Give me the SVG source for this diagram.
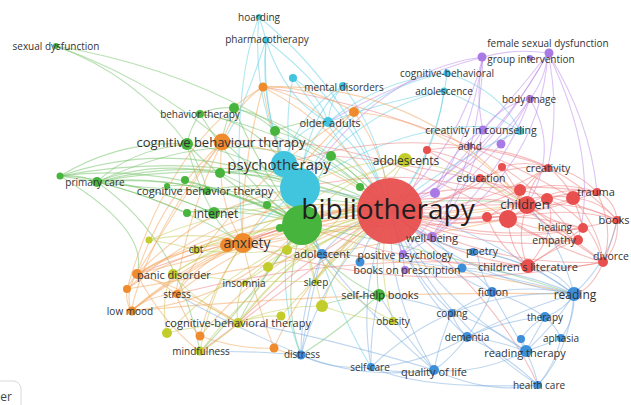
<svg xmlns="http://www.w3.org/2000/svg" width="631" height="405" viewBox="0 0 631 405">
<style>
text{font-family:"Open Sans","Noto Sans",sans-serif;fill:#333;text-anchor:middle;dominant-baseline:central;font-size:10px}
#connectors path{fill:none;stroke-width:1.1;stroke-opacity:.5}
.er path{stroke:#ee7b7b}.eg path{stroke:#72c266}.ec path{stroke:#5fd0e6}.eb path{stroke:#7eaee0}.eo path{stroke:#f4a35a}.ey path{stroke:#c4cc55}.ep path{stroke:#bb8ae9}
.r{fill:#e8504f}.g{fill:#47b43d}.c{fill:#41c4de}.b{fill:#3e8fda}.y{fill:#c2cc2b}.p{fill:#a97ae6}.o{fill:#f08b2d}
.s11{font-size:11px}.s12{font-size:12px}.s13{font-size:13px}
</style>
<rect width="631" height="405" fill="#fff"/>
<g id="connectors">
<g class="eg">
<path d="M56,46Q248,78 390,211"/><path d="M56,46Q206,99 302,225"/><path d="M56,46Q136,75 187,144"/>
<path d="M97,182Q248,152 390,211"/><path d="M60,176Q230,144 390,211"/><path d="M97,182Q206,173 302,225"/>
<path d="M97,182Q199,154 300,188"/><path d="M97,182Q130,150 187,144"/><path d="M97,182Q150,185 213,213"/>
<path d="M97,182Q140,192 187,213"/><path d="M97,182Q78,174 60,176"/><path d="M97,182Q150,175 207,190"/>
<path d="M97,182Q150,160 220,173"/><path d="M97,182Q170,200 243,243"/><path d="M60,176Q180,160 302,225"/>
<path d="M60,176Q180,135 300,188"/><path d="M60,176Q140,180 213,213"/><path d="M60,176Q120,140 187,144"/>
<path d="M60,176Q140,190 207,190"/><path d="M200,114Q309,134 390,211"/><path d="M200,114Q217,106 234,108"/>
<path d="M200,114Q190,128 187,144"/><path d="M200,114Q240,180 302,225"/><path d="M200,114Q250,120 283,162"/>
<path d="M234,108Q260,115 275,131"/><path d="M234,108Q260,170 302,225"/><path d="M234,108Q225,120 222,142"/>
<path d="M234,108Q320,130 390,211"/><path d="M275,131Q280,180 302,225"/><path d="M275,131Q340,150 390,211"/>
<path d="M275,131Q300,120 328,122"/><path d="M187,144Q230,190 302,225"/><path d="M187,144Q195,180 213,213"/>
<path d="M187,144Q200,165 207,190"/><path d="M187,144Q240,150 300,188"/><path d="M220,173Q260,190 302,225"/>
<path d="M220,173Q300,160 390,211"/><path d="M185,180Q240,195 302,225"/><path d="M207,190Q250,195 302,225"/>
<path d="M207,190Q300,175 390,211"/><path d="M267,205Q285,210 302,225"/><path d="M213,213Q301,186 390,211"/>
<path d="M213,213Q260,210 302,225"/><path d="M213,213Q225,235 243,243"/><path d="M187,213Q200,208 213,213"/>
<path d="M187,213Q250,200 302,225"/><path d="M302,225Q330,275 379,295"/><path d="M379,295Q372,251 390,211"/>
<path d="M379,295Q340,330 301,355"/><path d="M302,225Q420,190 527,205"/><path d="M302,225Q440,250 574,294"/>
<path d="M302,225Q280,300 301,355"/><path d="M302,225Q250,300 200,352"/><path d="M302,225Q260,280 238,323"/>
<path d="M331,156Q310,190 302,225"/><path d="M331,156Q370,170 390,211"/><path d="M360,187Q375,195 390,211"/>
<path d="M379,295Q330,300 322,306"/><path d="M167,186Q240,180 302,225"/><path d="M97,182Q180,240 200,352"/>
<path d="M60,176Q150,230 137,274"/><path d="M97,182Q250,110 360,187"/>
</g>
<g class="ec">
<path d="M259,17Q263,28 266,40"/><path d="M259,17Q354,94 390,211"/><path d="M259,17Q250,110 300,188"/>
<path d="M266,40Q354,107 390,211"/><path d="M266,40Q258,120 300,188"/><path d="M266,40Q262,110 284,164"/>
<path d="M266,40Q285,100 328,122"/><path d="M293,78Q280,140 300,188"/><path d="M293,78Q320,95 328,122"/>
<path d="M293,78Q340,140 390,211"/><path d="M343,86Q385,141 390,211"/><path d="M343,86Q305,120 300,188"/>
<path d="M343,86Q300,110 284,164"/><path d="M343,86Q330,100 328,122"/><path d="M328,122Q372,157 390,211"/>
<path d="M328,122Q300,150 300,188"/><path d="M328,122Q290,130 284,164"/><path d="M447,73Q439,151 390,211"/>
<path d="M447,73Q350,90 300,188"/><path d="M447,73Q380,80 328,122"/><path d="M444,91Q435,159 390,211"/>
<path d="M444,91Q360,110 300,188"/><path d="M444,91Q390,100 328,122"/><path d="M520,131Q420,110 300,188"/>
<path d="M520,131Q470,100 444,91"/><path d="M520,131Q500,90 447,73"/><path d="M520,131Q450,160 390,211"/>
<path d="M300,188Q270,280 301,355"/><path d="M300,188Q250,230 243,243"/><path d="M300,188Q330,300 371,367"/>
<path d="M266,40Q240,120 222,142"/><path d="M259,17Q230,90 243,243"/>
</g>
<g class="ep">
<path d="M483,57Q460,148 390,211"/><path d="M548,53Q493,156 390,211"/><path d="M530,99Q477,176 390,211"/>
<path d="M483,130Q449,184 390,211"/><path d="M548,53Q515,48 483,57"/><path d="M548,53Q545,80 530,99"/>
<path d="M548,53Q520,90 483,130"/><path d="M548,53Q500,140 435,193"/><path d="M483,57Q380,70 300,188"/>
<path d="M483,57Q400,80 328,122"/><path d="M483,57Q475,95 483,130"/><path d="M483,57Q470,140 435,193"/>
<path d="M483,57Q480,160 432,237"/><path d="M548,53Q540,170 432,237"/><path d="M548,53Q560,110 548,167"/>
<path d="M548,53Q590,120 597,192"/><path d="M530,99Q500,105 483,130"/><path d="M530,99Q515,125 501,144"/>
<path d="M530,99Q500,180 432,237"/><path d="M530,99Q560,150 527,205"/><path d="M483,130Q450,150 435,193"/>
<path d="M483,130Q470,190 432,237"/><path d="M501,144Q450,200 402,254"/><path d="M432,237Q420,245 402,254"/>
<path d="M435,193Q415,200 390,211"/><path d="M432,237Q410,230 390,211"/><path d="M402,254Q396,236 390,211"/>
<path d="M405,270Q400,240 390,211"/><path d="M548,53Q600,160 578,240"/>
</g>
<g class="er">
<path d="M548,167Q476,213 390,211"/><path d="M597,192Q496,233 390,211"/><path d="M617,220Q502,250 390,211"/>
<path d="M603,262Q489,268 390,211"/><path d="M528,266Q451,259 390,211"/><path d="M527,205Q459,229 390,211"/>
<path d="M520,190Q458,220 390,211"/><path d="M573,198Q484,232 390,211"/><path d="M583,228Q484,249 390,211"/>
<path d="M578,240Q480,254 390,211"/><path d="M480,178Q440,208 390,211"/><path d="M502,167Q453,206 390,211"/>
<path d="M427,150Q420,190 390,211"/><path d="M508,219Q450,230 390,211"/><path d="M487,217Q440,225 390,211"/>
<path d="M527,205Q560,185 597,192"/><path d="M527,205Q575,200 617,220"/><path d="M527,205Q530,180 548,167"/>
<path d="M527,205Q555,225 583,228"/><path d="M527,205Q550,235 578,240"/><path d="M527,205Q575,240 603,262"/>
<path d="M527,205Q515,240 528,266"/><path d="M527,205Q500,185 480,178"/><path d="M527,205Q510,180 502,167"/>
<path d="M508,219Q550,190 597,192"/><path d="M508,219Q570,205 617,220"/><path d="M508,219Q560,250 603,262"/>
<path d="M508,219Q510,250 528,266"/><path d="M508,219Q520,185 548,167"/><path d="M508,219Q545,235 583,228"/>
<path d="M508,219Q540,245 578,240"/><path d="M573,198Q600,200 617,220"/><path d="M573,198Q600,230 603,262"/>
<path d="M573,198Q580,215 583,228"/><path d="M573,198Q565,180 548,167"/><path d="M597,192Q615,200 617,220"/>
<path d="M597,192Q615,230 603,262"/><path d="M597,192Q575,170 548,167"/><path d="M548,167Q525,160 502,167"/>
<path d="M548,167Q515,165 480,178"/><path d="M548,167Q590,190 617,220"/><path d="M617,220Q620,245 603,262"/>
<path d="M528,266Q570,270 603,262"/><path d="M528,266Q550,250 578,240"/><path d="M528,266Q560,245 583,228"/>
<path d="M427,150Q480,160 527,205"/><path d="M427,150Q450,165 480,178"/><path d="M427,150Q490,140 548,167"/>
<path d="M527,205Q420,160 300,188"/><path d="M527,205Q400,180 243,243"/><path d="M508,219Q400,230 302,225"/>
<path d="M527,205Q330,200 137,274"/><path d="M528,266Q350,250 176,294"/><path d="M597,192Q420,170 243,243"/>
<path d="M508,219Q360,130 222,142"/><path d="M548,167Q420,120 284,164"/><path d="M528,266Q420,270 302,225"/>
<path d="M520,190Q400,160 331,156"/><path d="M390,211Q300,260 238,323"/><path d="M390,211Q270,300 200,352"/>
<path d="M390,211Q500,300 538,385"/><path d="M617,220Q600,290 574,294"/>
<path d="M487,217Q530,190 573,198"/><path d="M487,217Q540,215 583,228"/><path d="M520,190Q560,180 597,192"/>
<path d="M520,190Q570,200 617,220"/><path d="M502,167Q540,190 578,240"/><path d="M480,178Q540,220 603,262"/>
<path d="M547,199Q590,215 603,262"/><path d="M547,199Q560,230 528,266"/><path d="M487,217Q500,250 528,266"/>
<path d="M573,198Q420,110 263,87"/><path d="M603,262Q400,300 243,243"/>
</g>
<g class="eo">
<path d="M263,87Q345,130 390,211"/><path d="M354,112Q387,156 390,211"/><path d="M222,142Q316,151 390,211"/>
<path d="M243,243Q312,205 390,211"/><path d="M137,274Q254,205 390,211"/><path d="M131,311Q246,222 390,211"/>
<path d="M176,294Q271,220 390,211"/><path d="M200,336Q276,245 390,211"/><path d="M274,348Q312,262 390,211"/>
<path d="M263,87Q235,105 222,142"/><path d="M263,87Q240,170 243,243"/><path d="M263,87Q310,85 354,112"/>
<path d="M263,87Q270,130 284,164"/><path d="M263,87Q300,95 328,122"/><path d="M263,87Q420,80 527,205"/>
<path d="M354,112Q300,160 243,243"/><path d="M354,112Q240,180 176,294"/><path d="M354,112Q450,120 527,205"/>
<path d="M222,142Q215,200 243,243"/><path d="M222,142Q160,200 137,274"/><path d="M222,142Q150,230 131,311"/>
<path d="M222,142Q185,220 176,294"/><path d="M243,243Q180,245 137,274"/><path d="M243,243Q180,270 131,311"/>
<path d="M243,243Q200,260 176,294"/><path d="M243,243Q210,290 200,336"/><path d="M243,243Q255,300 274,348"/>
<path d="M243,243Q390,225 527,205"/><path d="M243,243Q420,260 574,294"/><path d="M137,274Q125,290 131,311"/>
<path d="M137,274Q130,282 127,289"/><path d="M137,274Q160,280 176,294"/><path d="M137,274Q190,290 238,323"/>
<path d="M137,274Q160,320 200,352"/><path d="M137,274Q220,230 302,225"/><path d="M137,274Q210,200 300,188"/>
<path d="M127,289Q170,140 263,87"/><path d="M127,289Q180,250 243,243"/><path d="M127,289Q125,300 131,311"/>
<path d="M131,311Q150,295 176,294"/><path d="M131,311Q190,260 243,243"/><path d="M176,294Q210,305 238,323"/>
<path d="M176,294Q185,320 200,336"/><path d="M200,336Q240,350 274,348"/><path d="M274,348Q290,355 301,355"/>
<path d="M137,274Q340,220 527,205"/><path d="M131,311Q350,290 574,294"/><path d="M127,289Q250,180 390,211"/>
<path d="M227,245Q300,230 390,211"/><path d="M137,274Q200,170 222,142"/><path d="M127,289Q300,260 508,219"/>
<path d="M131,311Q240,300 302,225"/>
</g>
<g class="ey">
<path d="M405,160Q340,180 302,225"/><path d="M405,160Q350,160 300,188"/><path d="M405,160Q310,190 243,243"/>
<path d="M405,160Q470,170 527,205"/><path d="M405,160Q360,230 315,282"/><path d="M405,160Q300,250 238,323"/>
<path d="M195,250Q172,243 149,240"/><path d="M195,250Q220,240 243,243"/><path d="M195,250Q250,230 302,225"/>
<path d="M195,250Q287,202 390,211"/><path d="M195,250Q240,255 287,250"/><path d="M287,250Q295,235 302,225"/>
<path d="M287,250Q340,225 390,211"/><path d="M268,267Q290,245 302,225"/><path d="M268,267Q255,275 243,283"/>
<path d="M268,267Q330,240 390,211"/><path d="M243,283Q306,225 390,211"/><path d="M243,283Q205,275 172,274"/>
<path d="M243,283Q235,305 238,323"/><path d="M243,283Q280,280 315,282"/><path d="M172,274Q272,210 390,211"/>
<path d="M172,274Q200,305 238,323"/><path d="M172,274Q160,300 167,333"/><path d="M172,274Q210,250 243,243"/>
<path d="M315,282Q342,235 390,211"/><path d="M315,282Q305,250 302,225"/><path d="M322,306Q340,250 390,211"/>
<path d="M322,306Q310,260 302,225"/><path d="M322,306Q280,305 238,323"/><path d="M322,306Q360,320 393,321"/>
<path d="M238,323Q297,244 390,211"/><path d="M238,323Q220,340 200,352"/><path d="M238,323Q260,315 281,316"/>
<path d="M238,323Q200,325 167,333"/><path d="M200,352Q274,253 390,211"/><path d="M200,352Q210,290 243,243"/>
<path d="M167,333Q260,238 390,211"/><path d="M393,321Q375,266 390,211"/><path d="M393,321Q330,290 302,225"/>
<path d="M149,240Q200,230 243,243"/><path d="M149,240Q265,190 390,211"/><path d="M281,316Q330,260 390,211"/>
</g>
<g class="eb">
<path d="M322,254Q350,220 390,211"/><path d="M322,254Q450,260 574,294"/><path d="M322,254Q310,230 300,188"/>
<path d="M322,254Q300,310 301,355"/><path d="M360,262Q370,230 390,211"/><path d="M462,268Q430,230 390,211"/>
<path d="M462,268Q520,270 574,294"/><path d="M462,268Q480,275 492,292"/><path d="M477,252Q427,245 390,211"/>
<path d="M477,252Q530,260 574,294"/><path d="M477,252Q500,255 528,266"/><path d="M477,252Q480,275 492,292"/>
<path d="M492,292Q429,267 390,211"/><path d="M492,292Q535,285 574,294"/><path d="M492,292Q475,300 452,313"/>
<path d="M492,292Q520,300 545,317"/><path d="M492,292Q480,320 467,337"/><path d="M492,292Q510,325 526,351"/>
<path d="M574,294Q470,280 390,211"/><path d="M574,294Q565,310 545,317"/><path d="M574,294Q575,320 561,338"/>
<path d="M574,294Q555,325 526,351"/><path d="M574,294Q570,350 538,385"/><path d="M574,294Q560,270 528,266"/>
<path d="M574,294Q560,240 527,205"/><path d="M574,294Q610,260 617,220"/><path d="M574,294Q520,310 467,337"/>
<path d="M574,294Q510,290 452,313"/><path d="M574,294Q440,200 300,188"/><path d="M545,317Q535,335 526,351"/>
<path d="M545,317Q555,325 561,338"/><path d="M545,317Q505,320 467,337"/><path d="M545,317Q530,325 521,339"/>
<path d="M561,338Q545,345 526,351"/><path d="M561,338Q555,365 538,385"/><path d="M526,351Q437,301 390,211"/>
<path d="M526,351Q535,370 538,385"/><path d="M526,351Q495,340 467,337"/><path d="M526,351Q480,375 434,370"/>
<path d="M526,351Q490,325 452,313"/><path d="M521,339Q525,345 526,351"/><path d="M538,385Q438,320 390,211"/>
<path d="M538,385Q500,350 467,337"/><path d="M467,337Q410,285 390,211"/><path d="M467,337Q450,360 434,370"/>
<path d="M467,337Q455,325 452,313"/><path d="M467,337Q420,365 371,367"/><path d="M434,370Q388,297 390,211"/>
<path d="M434,370Q400,375 371,367"/><path d="M434,370Q490,395 538,385"/><path d="M434,370Q440,340 452,313"/>
<path d="M434,370Q360,380 301,355"/><path d="M434,370Q400,330 379,295"/><path d="M434,370Q350,300 302,225"/>
<path d="M371,367Q357,286 390,211"/><path d="M371,367Q330,370 301,355"/><path d="M371,367Q370,330 379,295"/>
<path d="M371,367Q410,330 452,313"/><path d="M452,313Q406,271 390,211"/><path d="M452,313Q420,300 379,295"/>
<path d="M301,355Q324,270 390,211"/><path d="M301,355Q310,300 322,254"/><path d="M301,355Q240,350 200,352"/>
<path d="M301,355Q220,320 176,294"/><path d="M434,370Q300,330 238,323"/><path d="M538,385Q420,390 371,367"/>
</g>
</g>
<g id="n-c1"><circle class="c" cx="293" cy="78" r="4"/></g>
<g id="n-cy"><circle class="c" cx="520" cy="131" r="4"/></g>
<g id="n-psy-big"><circle class="c" cx="300" cy="188" r="20"/></g>
<g id="n-g2"><circle class="g" cx="234" cy="108" r="5"/></g>
<g id="n-g3"><circle class="g" cx="275" cy="131" r="5"/></g>
<g id="n-g4"><circle class="g" cx="331" cy="156" r="5"/></g>
<g id="n-g5"><circle class="g" cx="60" cy="176" r="3.5"/></g>
<g id="n-g6"><circle class="g" cx="220" cy="173" r="5"/></g>
<g id="n-g7"><circle class="g" cx="185" cy="180" r="4"/></g>
<g id="n-g8"><circle class="g" cx="167" cy="186" r="3"/></g>
<g id="n-g9"><circle class="g" cx="267" cy="205" r="4"/></g>
<g id="n-g10"><circle class="g" cx="187" cy="213" r="4"/></g>
<g id="n-g11"><circle class="g" cx="280" cy="228" r="4"/></g>
<g id="n-g12"><circle class="g" cx="360" cy="187" r="4"/></g>
<g id="n-cbt-g"><circle class="g" cx="187" cy="144" r="6"/></g>
<g id="n-green-big"><circle class="g" cx="302" cy="225" r="20"/></g>
<g id="n-o1"><circle class="o" cx="263" cy="87" r="4.5"/></g>
<g id="n-o2"><circle class="o" cx="354" cy="112" r="5"/></g>
<g id="n-o3"><circle class="o" cx="127" cy="289" r="4"/></g>
<g id="n-o4"><circle class="o" cx="200" cy="336" r="4.5"/></g>
<g id="n-o5"><circle class="o" cx="274" cy="348" r="4.5"/></g>
<g id="n-o6"><circle class="o" cx="137" cy="274" r="5"/></g>
<g id="n-ax2"><circle class="o" cx="227" cy="245" r="7"/></g>
<g id="n-y2"><circle class="y" cx="149" cy="240" r="3.5"/></g>
<g id="n-y3"><circle class="y" cx="287" cy="250" r="5"/></g>
<g id="n-y4"><circle class="y" cx="268" cy="267" r="5"/></g>
<g id="n-y5"><circle class="y" cx="322" cy="306" r="6"/></g>
<g id="n-y6"><circle class="y" cx="281" cy="316" r="4.5"/></g>
<g id="n-y7"><circle class="y" cx="167" cy="333" r="5"/></g>
<g id="n-b1"><circle class="b" cx="360" cy="262" r="4.5"/></g>
<g id="n-b2"><circle class="b" cx="462" cy="268" r="4.5"/></g>
<g id="n-b3"><circle class="b" cx="521" cy="339" r="4"/></g>
<g id="n-p1"><circle class="p" cx="501" cy="144" r="4.5"/></g>
<g id="n-p2"><circle class="p" cx="435" cy="193" r="5"/></g>
<g id="n-p3"><circle class="p" cx="530" cy="58" r="3"/></g>
<g id="n-r1"><circle class="r" cx="427" cy="150" r="4"/></g>
<g id="n-r2"><circle class="r" cx="502" cy="167" r="4"/></g>
<g id="n-r3"><circle class="r" cx="520" cy="190" r="6"/></g>
<g id="n-r4"><circle class="r" cx="573" cy="198" r="7"/></g>
<g id="n-r5"><circle class="r" cx="547" cy="199" r="6"/></g>
<g id="n-r6"><circle class="r" cx="508" cy="219" r="9"/></g>
<g id="n-r7"><circle class="r" cx="487" cy="217" r="5"/></g>
<g id="n-bibliotherapy"><circle class="r" cx="390" cy="211" r="33" fill-opacity=".95"/><text x="388" y="208" style="font-size:28px;fill:#1e1e1e">bibliotherapy</text></g>
<g id="n-hoarding"><circle class="c" cx="259" cy="17" r="3"/><text x="259" y="17">hoarding</text></g>
<g id="n-pharmacotherapy"><circle class="c" cx="266" cy="40" r="3.5"/><text x="267" y="39">pharmacotherapy</text></g>
<g id="n-mental-disorders"><circle class="c" cx="343" cy="86" r="4"/><text x="344" y="87">mental disorders</text></g>
<g id="n-older-adults"><circle class="c" cx="328" cy="122" r="5"/><text class="s11" x="330" y="122">older adults</text></g>
<g id="n-cognitive-behavioral"><circle class="c" cx="447" cy="73" r="3.5"/><text x="447" y="73">cognitive-behavioral</text></g>
<g id="n-adolescence"><circle class="c" cx="444" cy="91" r="3.5"/><text x="444" y="91">adolescence</text></g>
<g id="n-psychotherapy"><circle class="c" cx="284" cy="164" r="13"/><text x="279" y="164" style="font-size:15px">psychotherapy</text></g>
<g id="n-sexual-dysfunction"><circle class="g" cx="56" cy="46" r="3"/><text x="56" y="46">sexual dysfunction</text></g>
<g id="n-behavior-therapy"><circle class="g" cx="200" cy="114" r="4"/><text x="200" y="114">behavior therapy</text></g>
<g id="n-cognitive-behaviour-therapy"><circle class="o" cx="222" cy="142" r="8.5"/><text class="s13" x="221" y="142">cognitive behaviour therapy</text></g>
<g id="n-primary-care"><circle class="g" cx="97" cy="182" r="5"/><text x="95" y="182">primary care</text></g>
<g id="n-cognitive-behavior-therapy"><circle class="g" cx="207" cy="191" r="4"/><text class="s11" x="205" y="190">cognitive behavior therapy</text></g>
<g id="n-internet"><circle class="g" cx="214" cy="213" r="6"/><text class="s12" x="216" y="213">internet</text></g>
<g id="n-anxiety"><circle class="o" cx="243" cy="243" r="10"/><text x="247" y="242" style="font-size:14px">anxiety</text></g>
<g id="n-cbt"><circle class="y" cx="196" cy="250" r="4"/><text x="196" y="249">cbt</text></g>
<g id="n-panic-disorder"><circle class="y" cx="173" cy="274" r="5"/><text class="s11" x="174" y="274">panic disorder</text></g>
<g id="n-insomnia"><circle class="y" cx="245" cy="283" r="3"/><text x="244" y="283">insomnia</text></g>
<g id="n-sleep"><circle class="y" cx="316" cy="282" r="3"/><text x="316" y="282">sleep</text></g>
<g id="n-stress"><circle class="o" cx="177" cy="294" r="4"/><text x="177" y="294">stress</text></g>
<g id="n-low-mood"><circle class="o" cx="132" cy="311" r="4.5"/><text x="130" y="311">low mood</text></g>
<g id="n-cognitive-behavioral-therapy"><circle class="y" cx="238" cy="323" r="5"/><text class="s11" x="238" y="322">cognitive-behavioral therapy</text></g>
<g id="n-mindfulness"><circle class="y" cx="200" cy="351" r="4.5"/><text x="201" y="351">mindfulness</text></g>
<g id="n-distress"><circle class="b" cx="301" cy="355" r="4.5"/><text x="302" y="354">distress</text></g>
<g id="n-adolescents"><circle class="y" cx="405" cy="160" r="7"/><text class="s12" x="406" y="160">adolescents</text></g>
<g id="n-female-sexual-dysfunction"><circle class="p" cx="549" cy="53" r="4.5"/><text x="548" y="43">female sexual dysfunction</text></g>
<g id="n-group-intervention"><circle class="p" cx="482" cy="57" r="4.5"/><text x="531" y="59">group intervention</text></g>
<g id="n-body-image"><circle class="p" cx="530" cy="99" r="4"/><text x="529" y="99">body image</text></g>
<g id="n-creativity-in-counseling"><circle class="p" cx="483" cy="130" r="4.5"/><text x="481" y="130" style="font-size:10.5px">creativity in counseling</text></g>
<g id="n-adhd"><circle class="p" cx="470" cy="146" r="3"/><text x="470" y="146">adhd</text></g>
<g id="n-creativity"><circle class="r" cx="548" cy="168" r="4"/><text x="548" y="168" style="font-size:10.5px">creativity</text></g>
<g id="n-education"><circle class="r" cx="480" cy="178" r="4"/><text x="481" y="178" style="font-size:10.5px">education</text></g>
<g id="n-trauma"><circle class="r" cx="597" cy="192" r="4"/><text class="s11" x="596" y="191">trauma</text></g>
<g id="n-children"><circle class="r" cx="527" cy="205" r="9"/><text class="s13" x="525" y="204">children</text></g>
<g id="n-books"><circle class="r" cx="617" cy="220" r="4"/><text class="s11" x="614" y="219">books</text></g>
<g id="n-healing"><circle class="r" cx="583" cy="228" r="5"/><text x="555" y="227">healing</text></g>
<g id="n-empathy"><circle class="r" cx="578" cy="240" r="5"/><text x="554" y="240" style="font-size:10.5px">empathy</text></g>
<g id="n-divorce"><circle class="r" cx="603" cy="262" r="5"/><text x="611" y="256" style="font-size:10.5px">divorce</text></g>
<g id="n-childrens-literature"><circle class="r" cx="528" cy="266" r="7"/><text class="s11" x="528" y="266">children's literature</text></g>
<g id="n-well-being"><circle class="p" cx="432" cy="237" r="5"/><text class="s11" x="432" y="237">well-being</text></g>
<g id="n-adolescent"><circle class="b" cx="322" cy="254" r="5"/><text class="s11" x="322" y="253">adolescent</text></g>
<g id="n-positive-psychology"><circle class="p" cx="403" cy="254" r="4"/><text x="405" y="255" style="font-size:10.5px">positive psychology</text></g>
<g id="n-poetry"><circle class="b" cx="473" cy="252" r="4"/><text x="482" y="251" style="font-size:10.5px">poetry</text></g>
<g id="n-books-on-prescription"><circle class="p" cx="405" cy="270" r="4"/><text x="407" y="270" style="font-size:10.5px">books on prescription</text></g>
<g id="n-self-help-books"><circle class="g" cx="379" cy="295" r="6"/><text class="s11" x="380" y="294">self-help books</text></g>
<g id="n-obesity"><circle class="y" cx="393" cy="321" r="4"/><text x="393" y="321">obesity</text></g>
<g id="n-fiction"><circle class="b" cx="492" cy="292" r="5"/><text x="493" y="292" style="font-size:10.5px">fiction</text></g>
<g id="n-reading"><circle class="b" cx="574" cy="294" r="7"/><text class="s12" x="575" y="294">reading</text></g>
<g id="n-coping"><circle class="b" cx="452" cy="313" r="4"/><text x="452" y="313">coping</text></g>
<g id="n-therapy"><circle class="b" cx="545" cy="317" r="5"/><text x="545" y="317">therapy</text></g>
<g id="n-dementia"><circle class="b" cx="467" cy="337" r="5"/><text x="467" y="337">dementia</text></g>
<g id="n-aphasia"><circle class="b" cx="561" cy="338" r="4"/><text x="561" y="338">aphasia</text></g>
<g id="n-reading-therapy"><circle class="b" cx="526" cy="351" r="6"/><text class="s11" x="525" y="352">reading therapy</text></g>
<g id="n-self-care"><circle class="b" cx="371" cy="367" r="4"/><text x="370" y="367">self-care</text></g>
<g id="n-quality-of-life"><circle class="b" cx="434" cy="370" r="5"/><text class="s11" x="434" y="371">quality of life</text></g>
<g id="n-health-care"><circle class="b" cx="538" cy="385" r="4"/><text x="539" y="385">health care</text></g>
<g id="legend-button"><rect x="-40" y="381" width="61" height="40" rx="8" fill="#fff" stroke="#d9d9d9"/><text class="s12" x="6" y="396" style="fill:#444">er</text></g>
</svg>
